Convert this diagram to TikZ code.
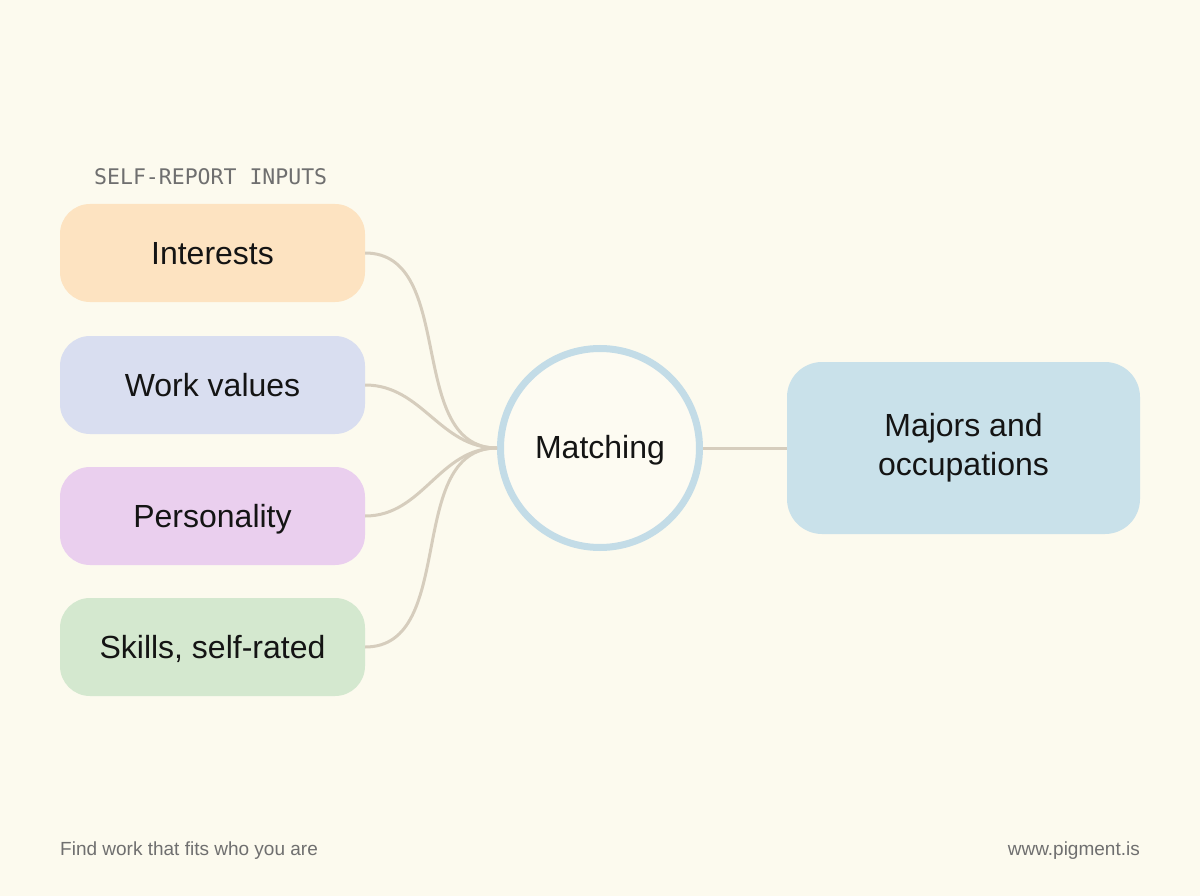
\documentclass[tikz,border=0pt]{standalone}
\usepackage{fontspec}
\setmainfont{Liberation Sans}
\setmonofont{DejaVu Sans Mono}
\usetikzlibrary{positioning}

\definecolor{paper}{HTML}{FCFAEE}
\definecolor{inkblack}{HTML}{141414}
\definecolor{softgrey}{HTML}{6F6F6F}
\definecolor{interestfill}{HTML}{FDE3C1}
\definecolor{valuefill}{HTML}{D9DEF0}
\definecolor{personfill}{HTML}{EACFEE}
\definecolor{skillfill}{HTML}{D4E8CF}
\definecolor{hubring}{HTML}{C3DCE7}
\definecolor{hubfill}{HTML}{FDFBF2}
\definecolor{outfill}{HTML}{C9E1EA}
\definecolor{linkgrey}{HTML}{D6CDBD}

\begin{document}
\begin{tikzpicture}[x=1pt, y=-1pt,
		%inner sep=2mm,
		inputbox/.style={rectangle, rounded corners=30pt, inner sep=0pt, minimum width=305pt, minimum height=98pt, text height=23pt, text depth=0pt, text=inkblack, font=\fontsize{32}{38}\selectfont},
		hub/.style={circle, draw=hubring, fill=hubfill, line width=7pt, inner sep=0pt, minimum size=199pt, text height=21pt, text depth=0pt, text=inkblack, font=\fontsize{32}{38}\selectfont},
		outbox/.style={rectangle, rounded corners=35pt, fill=outfill, inner sep=0pt, minimum width=353pt, minimum height=172pt, align=center, text=inkblack, font=\fontsize{32}{39}\selectfont},
		link/.style={draw=linkgrey, line width=3pt},
		footnote/.style={inner sep=0pt, text=softgrey, font=\fontsize{19}{23}\selectfont}
		]
		\fill[paper] (0, 0) rectangle (1200, 896);
		\node at (94, 185) [name=inputs label, anchor=base west, inner sep=0pt, text=softgrey, font=\ttfamily\fontsize{21.5}{26}\selectfont] {SELF-REPORT INPUTS};
		\node at (212.5, 253) [name=interests, inputbox, fill=interestfill] {Interests};
		\node at (212.5, 385) [name=work values, inputbox, fill=valuefill] {Work values};
		\node at (212.5, 516) [name=personality, inputbox, fill=personfill] {Personality};
		\node at (212.5, 647) [name=skills, inputbox, fill=skillfill] {Skills, self-rated};
		\node at (600, 448) [name=matching, hub] {Matching};
		\node at (963.5, 448) [name=majors, outbox] {Majors and\\occupations};
		\draw[link] (interests.east) to[out=0, in=180] (matching.west);
		\draw[link] (work values.east) to[out=0, in=180] (matching.west);
		\draw[link] (personality.east) to[out=0, in=180] (matching.west);
		\draw[link] (skills.east) to[out=0, in=180] (matching.west);
		\draw[link] (matching.east) -- (majors.west);
		\node at (60, 855) [name=tagline, anchor=base west, footnote] {Find work that fits who you are};
		\node at (1140, 855) [name=site, anchor=base east, footnote] {www.pigment.is};
	\end{tikzpicture}
\end{document}
